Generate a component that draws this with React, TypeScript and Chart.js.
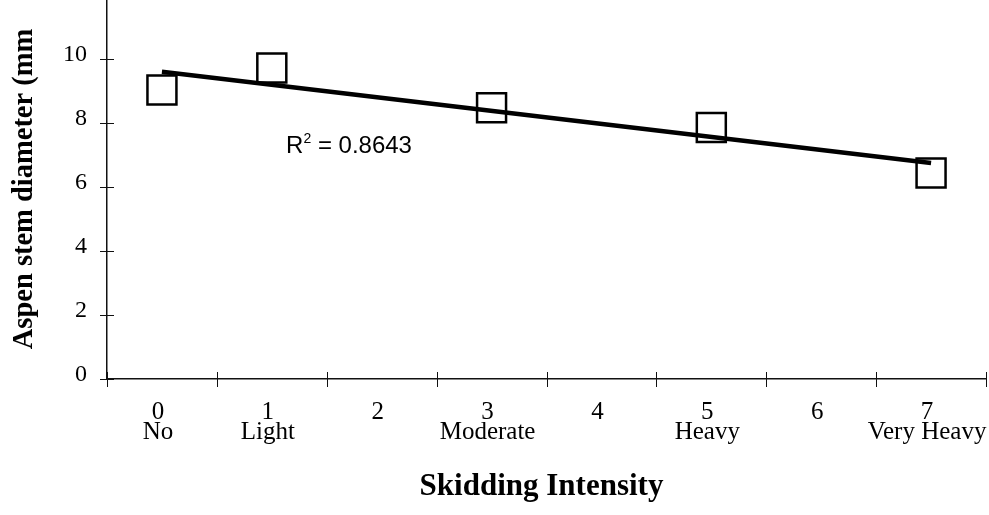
import React, { useEffect, useRef } from 'react';
import { Chart, registerables } from 'chart.js';

Chart.register(...registerables);

// ---- data ----
const categories = ['0', '1', '2', '3', '4', '5', '6', '7'];
const intensityNames = ['No', 'Light', '', 'Moderate', '', 'Heavy', '', 'Very Heavy'];
const stemDiameter = [9.03, 9.72, null, 8.48, null, 7.86, null, 6.44];
const trendLine = [9.6, null, null, null, null, null, null, 6.75];
const yTickValues = [0, 2, 4, 6, 8, 10, 12];
const rSquaredValue = '0.8643';
const yTitle = 'Aspen stem diameter (mm';
const xTitle = 'Skidding Intensity';

const SERIF = '"Liberation Serif", "Times New Roman", serif';
const SANS = '"Liberation Sans", Arial, sans-serif';

const decorPlugin = {
  id: 'decor',
  afterDraw(chart: any) {
    const ctx = chart.ctx as CanvasRenderingContext2D;
    const x = chart.scales.x;
    const y = chart.scales.y;
    const area = chart.chartArea;
    ctx.save();
    // crossing tick marks on y axis
    ctx.strokeStyle = '#111';
    ctx.lineWidth = 1;
    y.ticks.forEach((t: any) => {
      const py = Math.round(y.getPixelForValue(t.value)) + 0.5;
      ctx.beginPath();
      ctx.moveTo(area.left - 7, py);
      ctx.lineTo(area.left + 7, py);
      ctx.stroke();
    });
    // crossing tick marks on x axis at category boundaries
    for (let i = 0; i <= categories.length; i++) {
      const px = Math.round(x.getPixelForValue(i - 0.5)) + 0.5;
      ctx.beginPath();
      ctx.moveTo(px, area.bottom - 7);
      ctx.lineTo(px, area.bottom + 8);
      ctx.stroke();
    }
    // R^2 label
    const ax = x.getPixelForValue(1.13);
    const ay = y.getPixelForValue(7.06);
    ctx.fillStyle = '#000';
    ctx.textBaseline = 'alphabetic';
    ctx.textAlign = 'left';
    ctx.font = `24px ${SANS}`;
    ctx.fillText('R', ax, ay);
    let cx = ax + ctx.measureText('R').width;
    ctx.font = `14px ${SANS}`;
    ctx.fillText('2', cx, ay - 10);
    cx += ctx.measureText('2').width;
    ctx.font = `24px ${SANS}`;
    ctx.fillText(' = ' + rSquaredValue, cx, ay);
    // y title
    ctx.save();
    ctx.font = `bold 28.5px ${SERIF}`;
    ctx.translate(32, (area.top + area.bottom) / 2 + 2);
    ctx.rotate(-Math.PI / 2);
    ctx.textAlign = 'center';
    ctx.fillText(yTitle, 0, 0);
    ctx.restore();
    // x title
    ctx.font = `bold 31px ${SERIF}`;
    ctx.textAlign = 'center';
    ctx.fillText(xTitle, (area.left + area.right) / 2 - 5, 500);
    ctx.restore();
  },
};

export default function App() {
  const ref = useRef<HTMLCanvasElement | null>(null);
  useEffect(() => {
    if (!ref.current) return;
    const chart = new Chart(ref.current, {
      type: 'line',
      data: {
        labels: categories,
        datasets: [
          {
            label: 'trend',
            data: trendLine,
            borderColor: '#000',
            borderWidth: 4.5,
            pointRadius: 0,
            spanGaps: true,
            fill: false,
          },
          {
            label: 'stem diameter',
            data: stemDiameter,
            showLine: false,
            pointStyle: 'rect',
            pointRadius: 20.5,
            pointBorderWidth: 2.5,
            pointBorderColor: '#000',
            pointBackgroundColor: '#fff',
          },
        ],
      },
      options: {
        animation: false,
        responsive: false,
        devicePixelRatio: 1,
        events: [],
        layout: { autoPadding: false, padding: { left: 0, right: 3, top: 0, bottom: 0 } },
        plugins: {
          legend: { display: false },
          tooltip: { enabled: false },
          title: { display: false },
        },
        scales: {
          x: {
            type: 'category',
            offset: true,
            grid: { display: false, drawTicks: false, offset: true },
            border: { display: true, color: '#111', width: 1.5 },
            ticks: {
              autoSkip: false,
              maxRotation: 0,
              minRotation: 0,
              padding: 23,
              labelOffset: -4,
              color: '#000',
              font: { family: SERIF, size: 25, lineHeight: '20px' } as any,
              callback: (_v: any, i: number) => [categories[i], intensityNames[i]],
            },
            afterFit: (s: any) => {
              s.height = 136;
              s.paddingLeft = 0;
              s.paddingRight = 0;
            },
          },
          y: {
            type: 'linear',
            min: 0,
            max: 12,
            afterBuildTicks: (s: any) => {
              s.ticks = yTickValues.map((v) => ({ value: v }));
            },
            grid: { display: false, drawTicks: false },
            border: { display: true, color: '#111', width: 1.5 },
            ticks: {
              padding: 20,
              color: '#000',
              font: { family: SERIF, size: 24, lineHeight: '9px' } as any,
              callback: (v: any) => (v === 12 ? '' : [String(v), '']),
            },
            afterFit: (s: any) => {
              s.width = 107;
              s.paddingTop = 0;
              s.paddingBottom = 0;
            },
          },
        },
      },
      plugins: [decorPlugin],
    });
    return () => chart.destroy();
  }, []);
  return (
    <div style={{ position: 'absolute', left: 0, top: -5, width: 989, height: 520 }}>
      <canvas ref={ref} width={989} height={520} style={{ display: 'block' }} />
    </div>
  );
}
